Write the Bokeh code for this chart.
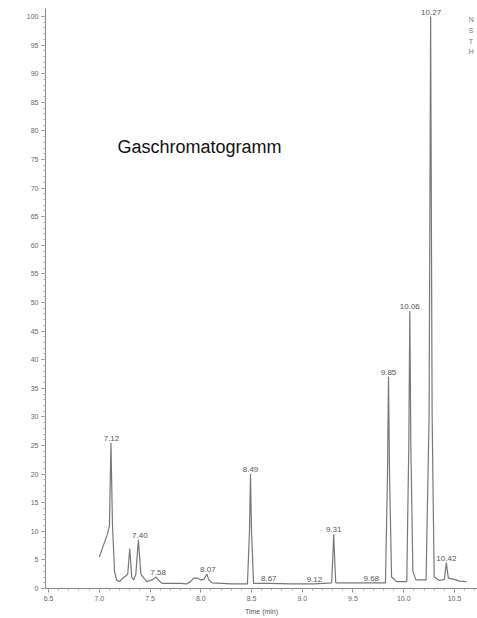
import numpy as np
from bokeh.plotting import figure
from bokeh.models import FixedTicker, Label, ColumnDataSource, Range1d
from bokeh.core.properties import value
from bokeh.embed import file_html
from bokeh.resources import INLINE

# Chromatogram trace (time in min, relative abundance %)
trace_time = [7.00, 7.04, 7.08, 7.10, 7.115, 7.13, 7.15, 7.17, 7.20, 7.23, 7.26, 7.28,
              7.30, 7.32, 7.34, 7.36, 7.385, 7.41, 7.44, 7.47, 7.50, 7.53, 7.56, 7.59,
              7.62, 7.70, 7.80, 7.86, 7.90, 7.93, 7.97, 8.00, 8.03, 8.06, 8.08, 8.11,
              8.30, 8.46, 8.48, 8.49, 8.50, 8.52, 8.67, 8.90, 9.12, 9.29, 9.30, 9.31,
              9.32, 9.33, 9.50, 9.68, 9.82, 9.84, 9.85, 9.86, 9.88, 9.93, 10.03, 10.05,
              10.06, 10.07, 10.09, 10.12, 10.22, 10.25, 10.265, 10.28, 10.30, 10.35, 10.40,
              10.42, 10.44, 10.50, 10.55, 10.62]
trace_abund = [5.5, 7.5, 9.5, 11.0, 25.5, 11.0, 3.0, 1.5, 1.2, 1.8, 2.2, 2.5,
               7.0, 2.0, 1.5, 2.5, 8.5, 2.5, 1.8, 1.2, 1.4, 1.6, 2.0, 1.3,
               0.9, 0.9, 0.9, 0.8, 1.2, 1.8, 1.8, 1.5, 1.6, 2.5, 1.5, 1.0,
               0.8, 0.8, 10.0, 20.0, 10.0, 0.9, 0.9, 0.8, 0.8, 1.0, 5.0, 9.5,
               5.0, 1.0, 1.0, 1.0, 1.0, 20.0, 37.0, 20.0, 2.0, 1.2, 1.2, 25.0,
               48.5, 25.0, 3.0, 1.5, 1.5, 30.0, 100.0, 30.0, 2.0, 1.4, 1.6,
               4.5, 1.8, 1.6, 1.3, 1.2]

# Peak annotations
peak_time = [7.12, 7.40, 7.58, 8.07, 8.49, 8.67, 9.12, 9.31, 9.68, 9.85, 10.06, 10.27, 10.42]
peak_height = [25.5, 8.5, 2.0, 2.5, 20.0, 0.9, 0.8, 9.5, 1.0, 37.0, 48.5, 100.0, 4.5]
peak_label = ["7.12", "7.40", "7.58", "8.07", "8.49", "8.67", "9.12", "9.31", "9.68",
              "9.85", "10.06", "10.27", "10.42"]

x_ticks = [6.5, 7.0, 7.5, 8.0, 8.5, 9.0, 9.5, 10.0, 10.5]
y_ticks = [0, 5, 10, 15, 20, 25, 30, 35, 40, 45, 50, 55, 60, 65, 70, 75, 80, 85, 90, 95, 100]

p = figure(width=477, height=618, output_backend="svg", toolbar_location=None,
           x_range=Range1d(6.47, 10.727), y_range=Range1d(0, 101.4),
           min_border_left=45, min_border_right=0, min_border_top=8, min_border_bottom=30)
p.outline_line_color = None
p.xgrid.visible = False
p.ygrid.visible = False
p.background_fill_color = "white"

src = ColumnDataSource(dict(t=trace_time, a=trace_abund))
p.line("t", "a", source=src, line_color="#777777", line_width=1.2)

lsrc = ColumnDataSource(dict(t=peak_time, h=peak_height, lab=peak_label))
p.text("t", "h", text="lab", source=lsrc, text_align="center", text_baseline="bottom",
       y_offset=-2, text_font=value("Liberation Sans"), text_font_size="8px",
       text_color="#555555")

p.xaxis.ticker = FixedTicker(ticks=x_ticks, minor_ticks=list(np.round(np.arange(6.5, 10.75, 0.1), 2)))
p.xaxis.major_label_overrides = {t: f"{t:.1f}" for t in x_ticks}
p.yaxis.ticker = FixedTicker(ticks=y_ticks, minor_ticks=list(range(0, 101)))

for ax in (p.xaxis[0], p.yaxis[0]):
    ax.axis_line_color = "#888888"
    ax.major_tick_line_color = "#888888"
    ax.minor_tick_line_color = "#aaaaaa"
    ax.major_tick_out = 4
    ax.major_tick_in = 0
    ax.minor_tick_out = 2
    ax.minor_tick_in = 0
    ax.major_label_text_font = "Liberation Sans"
    ax.major_label_text_font_size = "7px"
    ax.major_label_text_color = "#666666"
    ax.major_label_standoff = 3

p.xaxis.axis_label = "Time (min)"
p.xaxis.axis_label_text_font = "Liberation Sans"
p.xaxis.axis_label_text_font_size = "7px"
p.xaxis.axis_label_text_font_style = "normal"
p.xaxis.axis_label_text_color = "#555555"
p.xaxis.axis_label_standoff = 4

p.add_layout(Label(x=7.18, y=77.1, text="Gaschromatogramm", text_baseline="middle",
                   text_font="Liberation Sans", text_font_size="18px", text_color="#111111"))

for yy, ch in zip([99.5, 97.6, 95.7, 93.8], ["N", "S", "T", "H"]):
    p.add_layout(Label(x=10.64, y=yy, text=ch, text_baseline="middle",
                       text_font="Liberation Sans", text_font_size="7px", text_color="#777777"))

open("out.html", "w").write(file_html(p, INLINE))
